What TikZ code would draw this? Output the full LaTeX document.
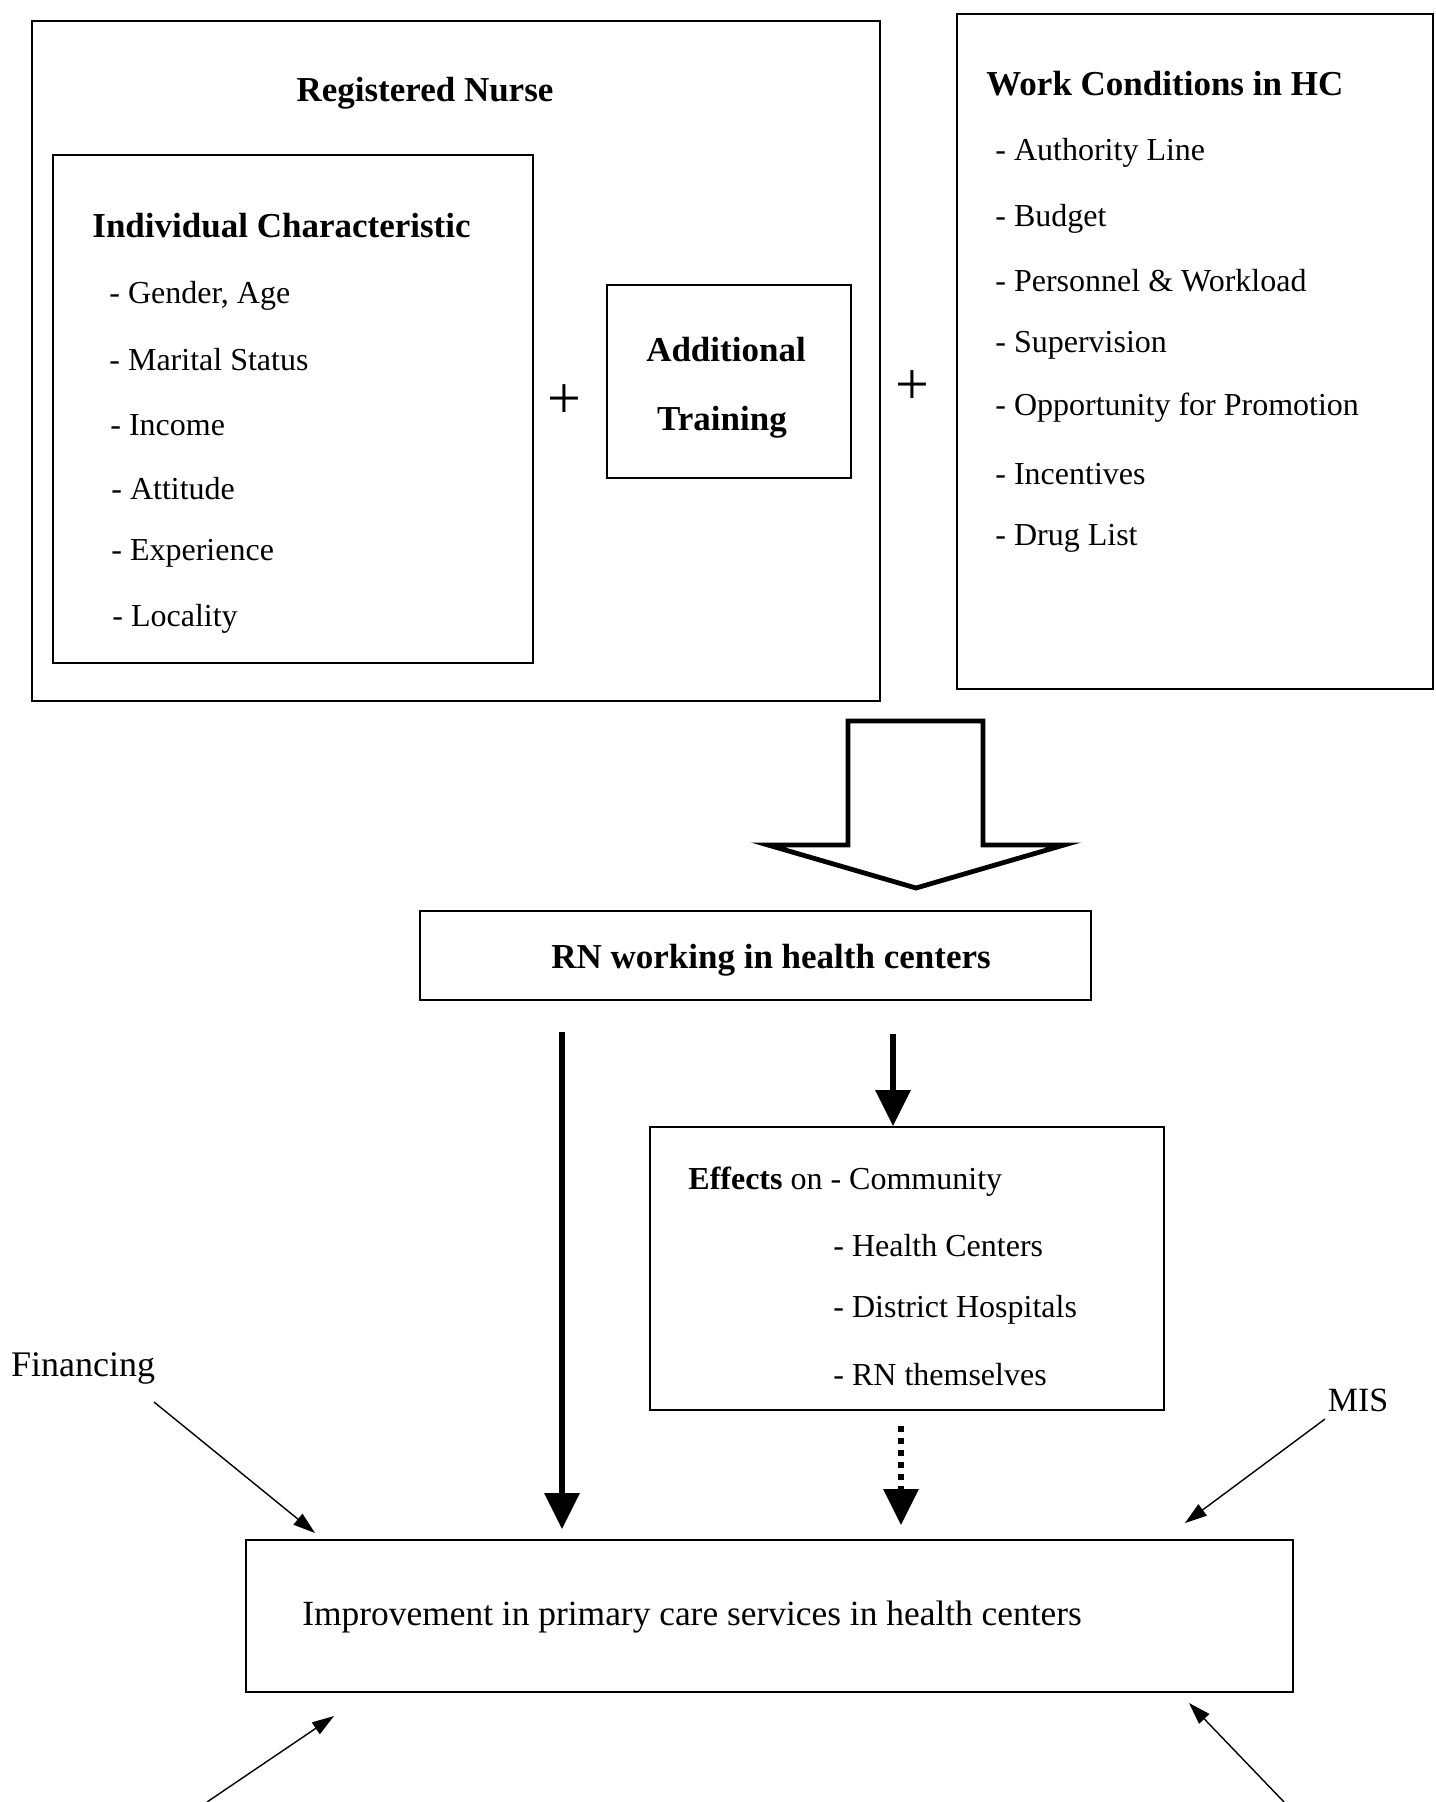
\documentclass[tikz,border=0pt]{standalone}
\usepackage{fontspec}
\setmainfont{Liberation Serif}
\usetikzlibrary{arrows.meta}

\begin{document}
\begin{tikzpicture}[x=0.5pt,y=-0.5pt,
  box/.style={draw, line width=0.9pt, inner sep=0pt},
  head/.style={inner sep=0pt, yshift=-1.75pt, font=\bfseries\fontsize{17.5}{21}\selectfont},
  item/.style={anchor=west, inner sep=0pt, yshift=-1.75pt, font=\fontsize{16}{19}\selectfont},
  plus/.style={inner sep=0pt, yshift=-1.75pt, font=\fontsize{30}{30}\selectfont},
  heavy/.style={line width=3pt, -{Triangle[length=18pt,width=17pt]}},
  feed/.style={line width=0.7pt, -{Triangle[length=11pt,width=7pt]}}]
  \useasboundingbox (0,0) rectangle (1435,1802);

  % registered nurse
  \node[box, minimum width=424pt, minimum height=340pt] (nurse) at (456,361) {};
  \node[head] (nursetitle) at (425,90) {Registered Nurse};
  \node[box, minimum width=240pt, minimum height=254pt] (indiv) at (293,409) {};
  \node[head, anchor=west] (indivtitle) at (92,222) {Individual Characteristic};
  \node[item] (gender) at (109,292) {- Gender, Age};
  \node[item] (marital) at (109,356) {- Marital Status};
  \node[item] (income) at (110,422) {- Income};
  \node[item] (attitude) at (111,485) {- Attitude};
  \node[item] (experience) at (111,550) {- Experience};
  \node[item] (locality) at (112,615) {- Locality};
  \node[plus] (plusa) at (564,398) {+};
  \node[box, minimum width=122pt, minimum height=96.5pt] (training) at (729,381.5) {};
  \node[head] (additional) at (726,346) {Additional};
  \node[head] (trainingtext) at (722,419) {Training};
  \node[plus] (plusb) at (912,384) {+};

  % work conditions
  \node[box, minimum width=238pt, minimum height=337.5pt] (work) at (1195,351.5) {};
  \node[head, anchor=west] (worktitle) at (986,80) {Work Conditions in HC};
  \node[item] (authority) at (995,149) {- Authority Line};
  \node[item] (budget) at (995,215) {- Budget};
  \node[item] (personnel) at (995,277) {- Personnel \& Workload};
  \node[item] (supervision) at (995,342) {- Supervision};
  \node[item] (promotion) at (995,404) {- Opportunity for Promotion};
  \node[item] (incentives) at (995,471) {- Incentives};
  \node[item] (drug) at (995,535) {- Drug List};

  % block arrow
  \draw[line width=2.4pt, line join=miter] (848,721) -- (983,721) -- (983,845) -- (1064,845)
    -- (916,888) -- (768,845) -- (848,845) -- cycle;

  % lower part
  \node[box, minimum width=335.5pt, minimum height=44.5pt] (rn) at (755.5,955.5) {};
  \node[head] (rntext) at (771,957) {RN working in health centers};
  \node[box, minimum width=257pt, minimum height=141.5pt] (effects) at (907,1268.5) {};
  \node[item] (community) at (688,1178) {\textbf{Effects} on - Community};
  \node[item] (centers) at (833,1242) {- Health Centers};
  \node[item] (hospitals) at (833,1306) {- District Hospitals};
  \node[item] (themselves) at (833,1371) {- RN themselves};
  \node[box, minimum width=523.5pt, minimum height=76pt] (imp) at (769.5,1616) {};
  \node[item, font=\fontsize{17.7}{21}\selectfont] (imptext) at (302,1614) {Improvement in primary care services in health centers};

  \node[inner sep=0pt, yshift=-1.75pt, font=\fontsize{18}{21}\selectfont] (fin) at (83,1365) {Financing};
  \node[inner sep=0pt, yshift=-1.75pt, font=\fontsize{17}{20}\selectfont] (mis) at (1358,1397) {MIS};

  \draw[heavy, shorten <=15.5pt, shorten >=5pt] ([xshift=-96.75pt]rn.south) -- ([xshift=-103.75pt]imp.north);
  \draw[heavy, shorten <=16.5pt] ([xshift=68.75pt]rn.south) -- ([xshift=-7pt]effects.north);
  \draw[heavy, dash pattern=on 3pt off 3pt, shorten <=7.5pt, shorten >=7pt] ([xshift=-3pt]effects.south) -- ([xshift=65.75pt]imp.north);

  \coordinate (finstart) at (154,1402);
  \coordinate (fintip) at (315,1533);
  \coordinate (misstart) at (1325,1419);
  \coordinate (mistip) at (1185,1523);
  \coordinate (lowleft) at (207,1802);
  \coordinate (lowlefttip) at (334,1716);
  \coordinate (lowright) at (1284,1802);
  \coordinate (lowrighttip) at (1189,1703);
  \draw[feed] (finstart) -- (fintip);
  \draw[feed] (misstart) -- (mistip);
  \draw[feed] (lowleft) -- (lowlefttip);
  \draw[feed] (lowright) -- (lowrighttip);
\end{tikzpicture}
\end{document}
